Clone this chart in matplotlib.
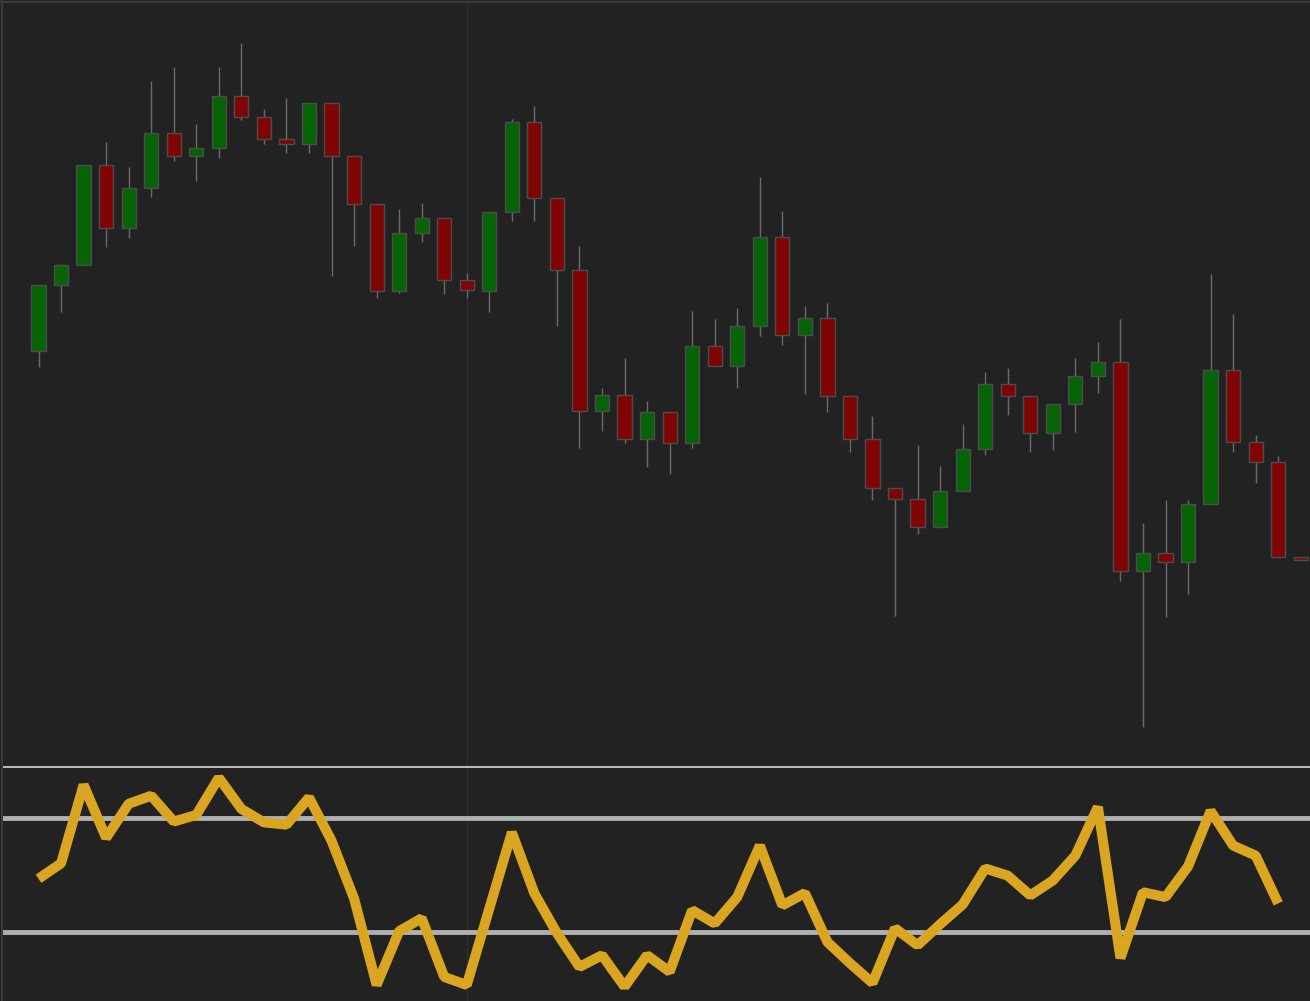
import matplotlib
matplotlib.use("Agg")
import matplotlib.pyplot as plt
from matplotlib.lines import Line2D
import numpy as np

# OHLC values (arbitrary price units)
opens = [448.7, 514.7, 534.7, 634.7, 571.7, 611.7, 666.7, 643.7, 651.7, 703.7,
         682.7, 660.7, 655.7, 696.7, 643.7, 595.7, 508.7, 566.7, 581.7, 519.7,
         508.7, 587.7, 677.7, 601.7, 529.7, 388.7, 404.7, 360.7, 387.7, 356.7,
         453.7, 433.7, 473.7, 562.7, 464.7, 481.7, 403.7, 360.7, 311.7, 300.7,
         272.7, 308.7, 350.7, 415.7, 403.7, 366.7, 395.7, 423.7, 437.7, 228.7,
         246.7, 237.7, 295.7, 429.7, 357.7, 337.7, 242.7]
highs = [514.7, 536.0, 634.7, 658.0, 633.0, 719.0, 733.0, 676.0, 733.0, 757.0,
         691.0, 702.0, 696.7, 696.7, 643.7, 595.7, 591.0, 597.0, 581.7, 527.0,
         587.7, 681.0, 694.0, 601.7, 554.0, 412.0, 442.0, 399.0, 387.7, 489.0,
         481.0, 492.0, 623.0, 589.0, 494.0, 497.0, 403.7, 384.0, 312.3, 355.0,
         334.0, 376.0, 428.0, 432.0, 403.7, 396.3, 442.0, 458.0, 481.0, 277.0,
         300.0, 300.0, 526.0, 486.0, 365.3, 344.3, 242.7]
lows = [433.3, 488.3, 534.7, 553.3, 562.3, 603.3, 639.3, 619.3, 642.3, 680.3,
        656.3, 647.3, 647.3, 524.3, 554.3, 502.3, 507.3, 558.3, 506.3, 502.3,
        488.3, 579.3, 579.3, 474.3, 352.3, 369.3, 357.3, 333.3, 325.7, 352.3,
        433.7, 412.3, 464.3, 455.3, 406.3, 388.3, 348.3, 300.3, 184.3, 266.3,
        272.7, 308.7, 345.3, 385.3, 348.3, 350.3, 368.3, 407.3, 219.3, 73.3,
        183.3, 206.3, 295.7, 348.3, 317.3, 242.7, 239.7]
closes = [514.7, 534.7, 634.7, 571.7, 611.7, 666.7, 643.7, 651.7, 703.7, 682.7,
          660.7, 655.7, 696.7, 643.7, 595.7, 508.7, 566.7, 581.7, 519.7, 509.7,
          587.7, 677.7, 601.7, 529.7, 388.7, 404.7, 360.7, 387.7, 356.7, 453.7,
          433.7, 473.7, 562.7, 464.7, 481.7, 403.7, 360.7, 311.7, 300.7, 272.7,
          308.7, 350.7, 415.7, 403.7, 366.7, 395.7, 423.7, 437.7, 228.7, 246.7,
          237.7, 295.7, 429.7, 357.7, 337.7, 242.7, 239.7]

# RSI values
rsi = [48.7, 54.1, 81.5, 63.0, 74.9, 77.7, 68.7, 71.0, 84.0, 73.1,
       68.4, 67.6, 77.1, 62.0, 41.8, 11.6, 30.4, 34.9, 14.4, 11.6,
       38.3, 64.9, 43.6, 29.7, 17.9, 22.0, 11.0, 22.0, 16.2, 37.7,
       33.1, 42.3, 60.3, 39.4, 43.7, 26.6, 19.2, 12.3, 31.4, 25.5,
       32.8, 39.7, 52.3, 49.8, 42.9, 48.1, 56.8, 73.8, 21.0, 44.0,
       42.3, 53.0, 72.4, 60.3, 56.8, 40.1]
rsi_levels = [70, 30]

BG = "#222222"
UP = "#066406"
DOWN = "#800404"

W, H = 1310, 1001
fig = plt.figure(figsize=(W / 100, H / 100), dpi=100, facecolor=BG)

ax = fig.add_axes([2 / W, (H - 767) / H, 1308 / W, 765 / H], facecolor=BG)
ax2 = fig.add_axes([2 / W, 0, 1308 / W, 233 / H], facecolor=BG)

n = len(opens)
x = np.arange(n)

# wicks
ax.vlines(x, lows, highs, color="#6a6a6a", linewidth=1, zorder=1)
# bodies
o = np.array(opens)
c = np.array(closes)
bottoms = np.minimum(o, c)
heights = np.maximum(np.abs(c - o), 1.0)
colors = [UP if cc >= oo else DOWN for oo, cc in zip(o, c)]
ax.bar(x, heights, bottom=bottoms, width=0.63, color=colors,
       edgecolor="#4c4c4c", linewidth=1, zorder=2)

xlim = (-1.62, 56.41)
ax.set_xlim(*xlim)
ax.set_ylim(33, 798)
ax.axvline(19, color="#2e2e2e", linewidth=1, zorder=0)

# RSI panel
ax2.set_xlim(*xlim)
ax2.set_ylim(6, 87.4)
ax2.axvline(19, color="#2e2e2e", linewidth=1, zorder=0)
for lv in rsi_levels:
    ax2.axhline(lv, color="#b0b0b0", linewidth=3.5, zorder=1)
ax2.plot(np.arange(len(rsi)), rsi, color="#DAA520", linewidth=7.2,
         solid_joinstyle="bevel", solid_capstyle="butt", zorder=2)

for a in (ax, ax2):
    a.set_xticks([])
    a.set_yticks([])
    for s in a.spines.values():
        s.set_visible(False)

# separator between panels
fig.add_artist(Line2D([2 / W, 1], [(H - 767) / H] * 2, color="#d8d8d8", linewidth=1.2))
# outer frame (left and top)
fig.add_artist(Line2D([1.5 / W, 1.5 / W], [0, 1], color="#3a3a3a", linewidth=1.5))
fig.add_artist(Line2D([0, 1], [1 - 1.5 / H, 1 - 1.5 / H], color="#3a3a3a", linewidth=1.5))

fig.savefig("out.png", dpi=100, facecolor=BG)
